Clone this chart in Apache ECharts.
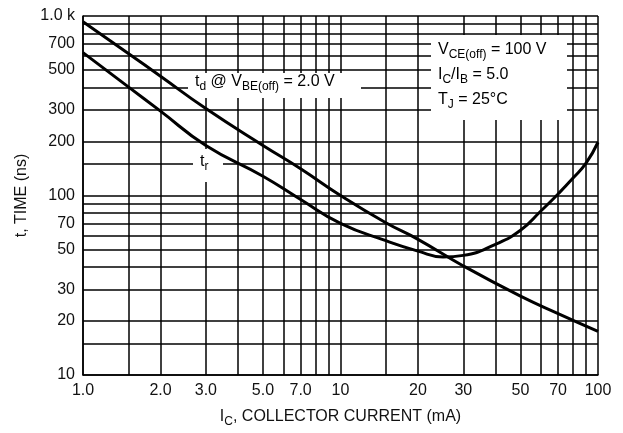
<!DOCTYPE html>
<html>
<head>
<meta charset="utf-8">
<script src="https://cdn.jsdelivr.net/npm/echarts@6/dist/echarts.min.js"></script>
<style>
  html, body { margin: 0; padding: 0; background: #fff; }
  #chart { width: 623px; height: 433px; }
</style>
</head>
<body>
<div id="chart"></div>
<script>
// td curve (delay time)
const tdCurrent = [1, 1.5, 2, 3, 5, 7, 10, 15, 20, 30, 50, 70, 100];
const tdTime = [930, 618, 462, 305, 190, 141, 100, 70.5, 57, 40.5, 27.5, 22, 17.5];

// tr curve (rise time)
const trCurrent = [1, 1.5, 2, 3, 5, 7, 10, 15, 20, 25, 30, 40, 50, 60, 70, 80, 90, 100];
const trTime = [625, 403, 295, 190, 128, 95, 70, 56, 49, 45.5, 46.4, 53.5, 64, 82, 102, 125, 152, 198];

// grid lines and tick labels
const xGrid = [1, 1.5, 2, 3, 4, 5, 6, 7, 8, 9, 10, 15, 20, 30, 40, 50, 60, 70, 80, 90, 100];
const yGrid = [10, 15, 20, 30, 40, 50, 60, 70, 80, 90, 100, 150, 200, 300, 400, 500, 600, 700, 800, 900, 1000];
const xTickValues = [1, 2, 3, 5, 7, 10, 20, 30, 50, 70, 100];
const xTickLabels = ['1.0', '2.0', '3.0', '5.0', '7.0', '10', '20', '30', '50', '70', '100'];
const yTickValues = [10, 20, 30, 50, 70, 100, 200, 300, 500, 700, 1000];
const yTickLabels = ['10', '20', '30', '50', '70', '100', '200', '300', '500', '700', '1.0 k'];

const FONT = 'Liberation Sans, Arial, sans-serif';
const INK = '#111';

function pair(xs, ys) {
  return xs.map((x, i) => [x, ys[i]]);
}
function labelFor(values, labels) {
  return function (v) {
    for (let i = 0; i < values.length; i++) {
      if (Math.abs(values[i] - v) / values[i] < 1e-6) return labels[i];
    }
    return '';
  };
}

// rich styles for subscripts
const rich = {
  m: { fontSize: 16, fontFamily: FONT, color: INK },
  s: { fontSize: 12, fontFamily: FONT, color: INK, padding: [10, 0, 0, 0] }
};

const chart = echarts.init(document.getElementById('chart'), null, { renderer: 'canvas' });

chart.setOption({
  backgroundColor: '#fff',
  animation: false,
  grid: { left: 83, right: 25, top: 16, bottom: 57 },
  xAxis: {
    type: 'log',
    logBase: 10,
    min: 1,
    max: 100,
    name: '{m|I}{s|C}{m|, COLLECTOR CURRENT (mA)}',
    nameLocation: 'middle',
    nameGap: 31,
    nameTextStyle: { rich: rich },
    axisLine: { show: true, lineStyle: { color: '#000', width: 1.5 } },
    axisTick: { show: false, customValues: xGrid },
    axisLabel: {
      customValues: xTickValues,
      formatter: labelFor(xTickValues, xTickLabels),
      fontSize: 16,
      fontFamily: FONT,
      color: INK,
      margin: 8
    },
    splitLine: { show: true, lineStyle: { color: '#000', width: 1.5 } }
  },
  yAxis: {
    type: 'log',
    logBase: 10,
    min: 10,
    max: 1000,
    name: 't, TIME (ns)',
    nameLocation: 'middle',
    nameGap: 48,
    nameTextStyle: { fontSize: 16, fontFamily: FONT, color: INK },
    axisLine: { show: true, lineStyle: { color: '#000', width: 1.5 } },
    axisTick: { show: false, customValues: yGrid },
    axisLabel: {
      customValues: yTickValues,
      formatter: labelFor(yTickValues, yTickLabels),
      fontSize: 16,
      fontFamily: FONT,
      color: INK,
      margin: 8
    },
    splitLine: { show: true, lineStyle: { color: '#000', width: 1.5 } }
  },
  graphic: [
    // td label
    { type: 'rect', left: 188, top: 73, shape: { width: 173, height: 25 }, style: { fill: '#fff' }, z: 1 },
    { type: 'text', left: 195, top: 74, z: 6,
      style: { text: '{m|t}{s|d}{m| @ V}{s|BE(off)}{m| = 2.0 V}', rich: rich } },
    // tr label
    { type: 'rect', left: 193, top: 149, shape: { width: 30, height: 33 }, style: { fill: '#fff' }, z: 1 },
    { type: 'text', left: 200, top: 154, z: 6,
      style: { text: '{m|t}{s|r}', rich: rich } },
    // test conditions
    { type: 'rect', left: 431, top: 35, shape: { width: 136, height: 85 }, style: { fill: '#fff' }, z: 1 },
    { type: 'text', left: 438, top: 42, z: 6,
      style: { text: '{m|V}{s|CE(off)}{m| = 100 V}', rich: rich } },
    { type: 'text', left: 438, top: 67, z: 6,
      style: { text: '{m|I}{s|C}{m|/I}{s|B}{m| = 5.0}', rich: rich } },
    { type: 'text', left: 438, top: 92, z: 6,
      style: { text: '{m|T}{s|J}{m| = 25°C}', rich: rich } }
  ],
  series: [
    {
      name: 'td',
      type: 'line',
      data: pair(tdCurrent, tdTime),
      smooth: 0.5,
      showSymbol: false,
      lineStyle: { color: '#000', width: 3 },
      z: 5
    },
    {
      name: 'tr',
      type: 'line',
      data: pair(trCurrent, trTime),
      smooth: 0.5,
      showSymbol: false,
      lineStyle: { color: '#000', width: 3 },
      z: 5
    }
  ]
});
</script>
</body>
</html>
